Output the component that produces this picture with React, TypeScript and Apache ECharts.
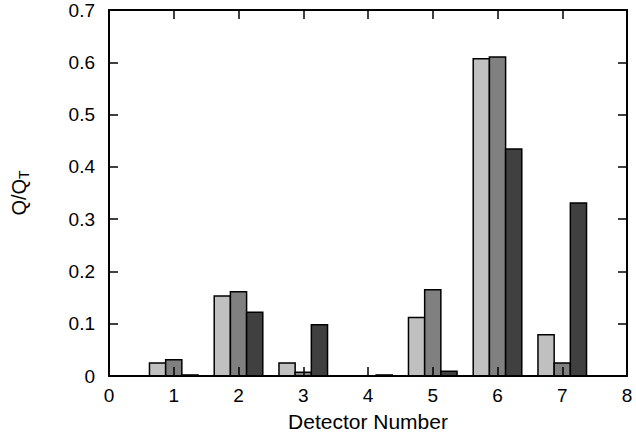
import React, { useEffect, useRef } from "react";
import * as echarts from "echarts";

const detectors = [1, 2, 3, 4, 5, 6, 7];
const seriesA = [0.025, 0.153, 0.025, 0.0, 0.112, 0.607, 0.079];
const seriesB = [0.031, 0.161, 0.007, 0.0, 0.165, 0.61, 0.025];
const seriesC = [0.002, 0.122, 0.098, 0.002, 0.009, 0.434, 0.331];
const colors = ["#c0c0c0", "#808080", "#404040"];
const offsets = [-0.25, 0, 0.25];
const barHalf = 0.125;

export default function App() {
  const ref = useRef<HTMLDivElement>(null);
  useEffect(() => {
    if (!ref.current) return;
    const chart = echarts.init(ref.current, null, { renderer: "svg" });
    const font = "'Liberation Sans', Arial, Helvetica, sans-serif";
    const all = [seriesA, seriesB, seriesC];
    const series = all.map((vals, si) => ({
      type: "custom",
      z: 2,
      xAxisIndex: 0,
      yAxisIndex: 0,
      data: detectors.map((d, i) => [d, vals[i]]),
      renderItem: (params: any, api: any) => {
        const x = api.value(0) + offsets[si];
        const y = api.value(1);
        const p1 = api.coord([x - barHalf, y]);
        const p2 = api.coord([x + barHalf, 0]);
        return {
          type: "rect",
          shape: { x: p1[0], y: p1[1], width: p2[0] - p1[0], height: p2[1] - p1[1] },
          style: { fill: colors[si], stroke: "#000", lineWidth: 1.5 },
        };
      },
    }));
    const tickStyle = { show: true, inside: true, length: 9, lineStyle: { color: "#000", width: 1.5 } };
    const lineStyle = { show: true, onZero: false, lineStyle: { color: "#000", width: 2 } };
    chart.setOption({
      animation: false,
      grid: { left: 109, right: 9, top: 10, bottom: 67 },
      xAxis: [
        {
          type: "value",
          z: 10,
          min: 0,
          max: 8,
          interval: 1,
          name: "Detector Number",
          nameLocation: "middle",
          nameGap: 35,
          nameTextStyle: { fontFamily: font, fontSize: 21, color: "#000" },
          axisLine: lineStyle,
          axisTick: tickStyle,
          axisLabel: { fontFamily: font, fontSize: 19, color: "#000", margin: 10 },
          splitLine: { show: false },
        },
        {
          type: "value",
          z: 10,
          position: "top",
          min: 0,
          max: 8,
          interval: 1,
          axisLine: lineStyle,
          axisTick: tickStyle,
          axisLabel: { show: false },
          splitLine: { show: false },
        },
      ],
      yAxis: [
        {
          type: "value",
          z: 10,
          min: 0,
          max: 0.7,
          interval: 0.1,
          name: "Q/Q{sub|T}",
          nameLocation: "middle",
          nameGap: 78,
          nameRotate: 90,
          nameTextStyle: {
            fontFamily: font,
            fontSize: 20,
            color: "#000",
            rich: { sub: { fontFamily: font, fontSize: 14, color: "#000", verticalAlign: "bottom", padding: [10, 0, 0, 0] } },
          },
          axisLine: lineStyle,
          axisTick: tickStyle,
          axisLabel: {
            fontFamily: font,
            fontSize: 19,
            color: "#000",
            margin: 14,
            formatter: (v: number) => (Math.round(v * 10) / 10).toString(),
          },
          splitLine: { show: false },
        },
        {
          type: "value",
          z: 10,
          position: "right",
          min: 0,
          max: 0.7,
          interval: 0.1,
          axisLine: lineStyle,
          axisTick: tickStyle,
          axisLabel: { show: false },
          splitLine: { show: false },
        },
      ],
      series,
    });
    return () => chart.dispose();
  }, []);
  return <div ref={ref} style={{ position: "absolute", left: 0, top: 0, width: 636, height: 443 }} />;
}
